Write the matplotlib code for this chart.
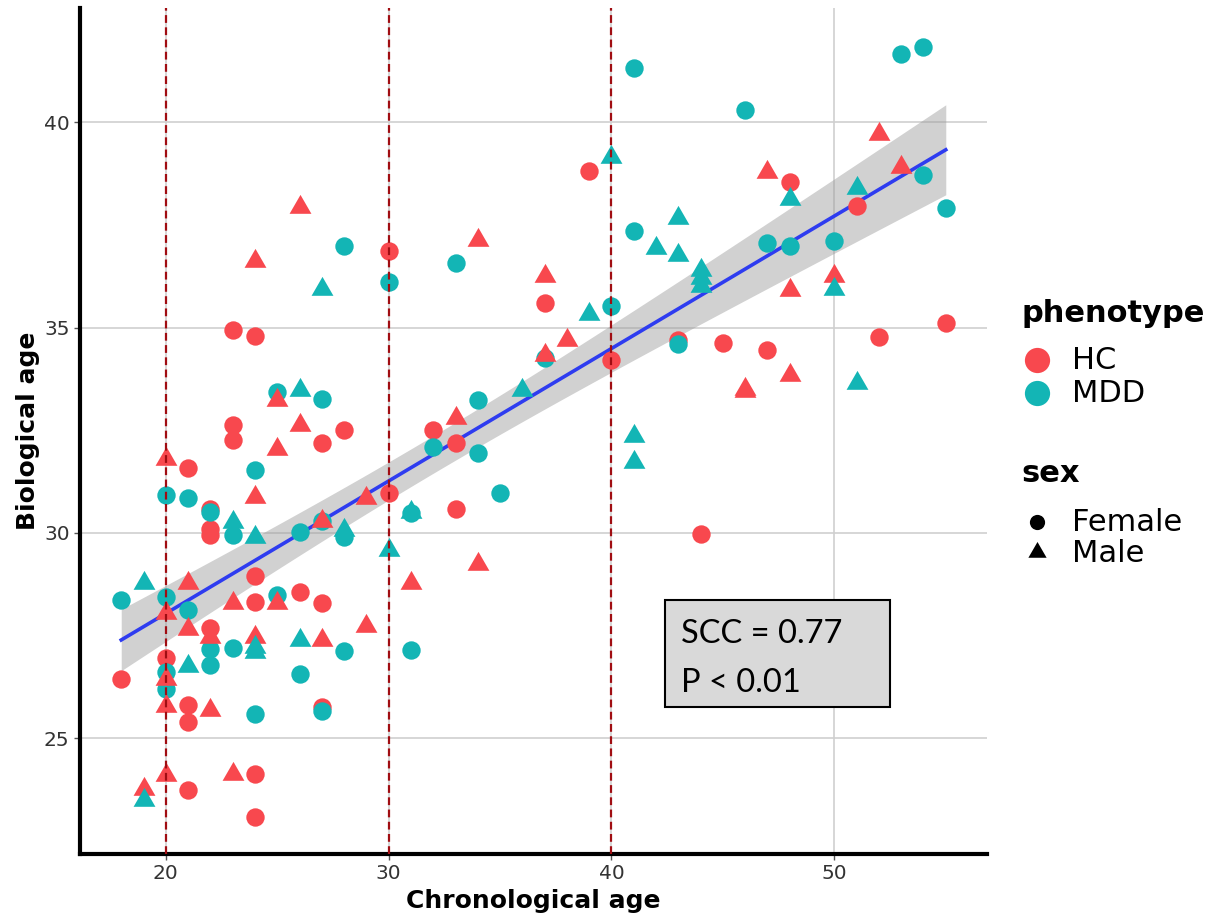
import numpy as np
import matplotlib
matplotlib.use("Agg")
import matplotlib.pyplot as plt
from matplotlib.patches import Rectangle

# ---- data ----
# HC, female (red circles)
hc_f_age = [18, 20, 21, 21, 21, 21, 22, 22, 22, 22, 23, 23, 23, 24, 24, 24, 24, 24, 26, 27,
            27, 27, 28, 30, 30, 32, 33, 33, 37, 39, 40, 43, 44, 45, 47, 48, 51, 52, 55]
hc_f_bio = [26.45, 26.96, 31.59, 25.8, 25.4, 23.75, 30.59, 30.1, 29.95, 27.69, 34.94, 32.62,
            32.26, 34.79, 28.94, 28.32, 24.14, 23.09, 28.56, 32.18, 28.28, 25.75, 32.5, 36.87,
            30.96, 32.5, 32.19, 30.59, 35.59, 38.81, 34.2, 34.7, 29.98, 34.63, 34.45, 38.55,
            37.96, 34.76, 35.11]
# HC, male (red triangles)
hc_m_age = [19, 20, 20, 20, 20, 20, 21, 21, 22, 22, 23, 23, 24, 24, 24, 25, 25, 25, 26, 26,
            27, 27, 29, 29, 31, 33, 34, 34, 37, 37, 38, 46, 46, 47, 48, 48, 50, 52, 53]
hc_m_bio = [23.77, 31.81, 28.05, 26.45, 25.79, 24.1, 28.77, 27.65, 27.47, 25.68, 28.28, 24.14,
            36.63, 30.88, 27.47, 33.23, 32.03, 28.3, 37.94, 32.62, 30.3, 27.4, 30.84, 27.74,
            28.77, 32.79, 37.13, 29.25, 36.26, 34.33, 34.69, 33.51, 33.45, 38.79, 35.91, 33.84,
            36.25, 39.72, 38.91]
# MDD, female (teal circles)
mdd_f_age = [18, 20, 20, 20, 20, 21, 21, 22, 22, 22, 23, 23, 24, 24, 25, 25, 26, 26, 27, 27,
             27, 28, 28, 28, 30, 31, 31, 32, 33, 34, 34, 35, 37, 40, 41, 41, 43, 46, 47, 48,
             50, 53, 54, 54, 55]
mdd_f_bio = [28.36, 30.92, 28.44, 26.62, 26.19, 30.84, 28.12, 30.5, 27.18, 26.78, 29.94, 27.2,
             31.53, 25.6, 33.43, 28.48, 30.02, 26.56, 33.26, 30.3, 25.67, 36.98, 29.9, 27.12,
             36.1, 30.48, 27.14, 32.09, 36.56, 33.23, 31.95, 30.96, 34.26, 35.52, 41.31, 37.35,
             34.6, 40.29, 37.05, 36.98, 37.11, 41.67, 41.83, 38.71, 37.92]
# MDD, male (teal triangles)
mdd_m_age = [19, 19, 21, 23, 24, 24, 24, 26, 26, 27, 28, 30, 31, 36, 39, 40, 41, 41, 42, 43,
             43, 44, 44, 44, 48, 50, 51, 51]
mdd_m_bio = [28.78, 23.49, 26.75, 30.27, 29.9, 27.23, 27.1, 33.47, 27.4, 35.93, 30.07, 29.58,
             30.51, 33.47, 35.34, 39.14, 32.36, 31.73, 36.93, 37.66, 36.76, 36.4, 36.2, 36.0,
             38.14, 35.93, 38.39, 33.64]

cut_ages = [20, 30, 40]
stat_lines = ["SCC = 0.77", "P < 0.01"]

red = "#F8484E"
teal = "#13B5B5"

W, H = 1217, 921
fig = plt.figure(figsize=(W / 100, H / 100), dpi=100)
ax = fig.add_axes([80 / W, 1 - 854 / H, 907 / W, 846 / H])

# equilateral triangle centred on its centroid, like R's pch 17
tri = [(0, 1), (-0.866, -0.5), (0.866, -0.5), (0, 1)]

# grid
for y in [25, 30, 35, 40]:
    ax.axhline(y, color="#CFCFCF", lw=1.2, zorder=0)
for x in [20, 30, 40, 50]:
    ax.axvline(x, color="#CFCFCF", lw=1.2, zorder=0)

# linear fit with 95% band
all_x = np.array(hc_f_age + hc_m_age + mdd_f_age + mdd_m_age, dtype=float)
all_y = np.array(hc_f_bio + hc_m_bio + mdd_f_bio + mdd_m_bio)
n = len(all_x)
b, a = np.polyfit(all_x, all_y, 1)
xs = np.linspace(all_x.min(), all_x.max(), 100)
yhat = a + b * xs
resid = all_y - (a + b * all_x)
s = np.sqrt(np.sum(resid ** 2) / (n - 2))
se = s * np.sqrt(1 / n + (xs - all_x.mean()) ** 2 / np.sum((all_x - all_x.mean()) ** 2))
tq = 1.976
ax.fill_between(xs, yhat - tq * se, yhat + tq * se, color="#999999", alpha=0.45, lw=0, zorder=2)
ax.plot(xs, yhat, color="#2E3CF0", lw=2.6, zorder=3)

# points
ax.scatter(hc_f_age, hc_f_bio, s=175, color=red, marker="o", lw=0, zorder=4)
ax.scatter(mdd_f_age, mdd_f_bio, s=175, color=teal, marker="o", lw=0, zorder=4)
ax.scatter(hc_m_age, hc_m_bio, s=330, color=red, marker=tri, lw=0, zorder=4)
ax.scatter(mdd_m_age, mdd_m_bio, s=330, color=teal, marker=tri, lw=0, zorder=4)

# cut-off lines
for x in cut_ages:
    ax.axvline(x, color="#A00D12", lw=1.6, ls=(0, (3.5, 2)), zorder=5)

ax.set_xlim(16.15, 56.85)
ax.set_ylim(22.18, 42.78)
ax.set_xticks([20, 30, 40, 50])
ax.set_yticks([25, 30, 35, 40])
for sp in ["top", "right"]:
    ax.spines[sp].set_visible(False)
for sp in ["left", "bottom"]:
    ax.spines[sp].set_linewidth(3)
ax.tick_params(length=4, width=1, color="#555555", labelsize=14.5, labelcolor="#333333")
ax.set_xlabel("Chronological age", fontsize=18, fontweight="bold", labelpad=4)
ax.set_ylabel("Biological age", fontsize=18, fontweight="bold", labelpad=3)

# overlay in pixel coordinates for legend and stats box
ov = fig.add_axes([0, 0, 1, 1])
ov.set_xlim(0, W)
ov.set_ylim(H, 0)
ov.axis("off")
ov.patch.set_alpha(0)

ov.add_patch(Rectangle((665, 600), 225, 107, facecolor="#D9D9D9", edgecolor="black", lw=1.5))
for i, t in enumerate(stat_lines):
    ov.text(681, 634 + i * 49, t, fontsize=23.5, family="Lato", va="center", ha="left")

ov.text(1021, 313, "phenotype", fontsize=22, fontweight="bold", va="center", ha="left")
ov.scatter([1037], [360], s=330, color=red, lw=0)
ov.scatter([1037], [393], s=330, color=teal, lw=0)
ov.text(1072, 360, "HC", fontsize=22, va="center", ha="left")
ov.text(1072, 393, "MDD", fontsize=22, va="center", ha="left")

ov.text(1021, 473, "sex", fontsize=22, fontweight="bold", va="center", ha="left")
ov.scatter([1037], [522], s=120, color="black", lw=0)
ov.scatter([1037], [552], s=230, color="black", marker=tri, lw=0)
ov.text(1072, 522, "Female", fontsize=22, va="center", ha="left")
ov.text(1072, 553, "Male", fontsize=22, va="center", ha="left")

fig.savefig("out.png", dpi=100)
